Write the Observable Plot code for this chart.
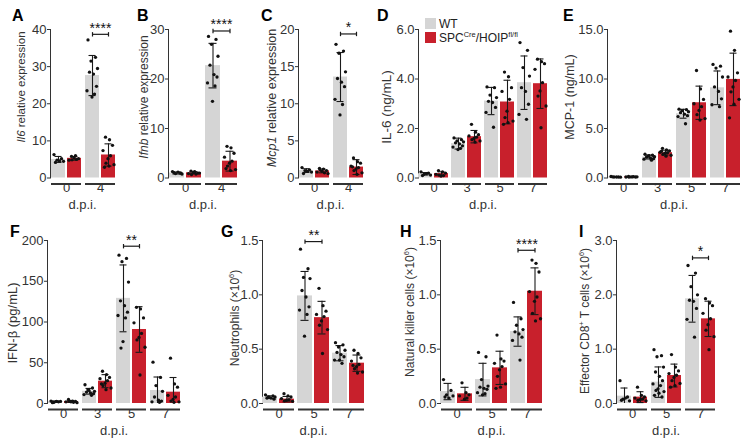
<!DOCTYPE html>
<html><head><meta charset="utf-8">
<script src="https://cdn.jsdelivr.net/npm/d3@7"></script>
<script src="https://cdn.jsdelivr.net/npm/@observablehq/plot@0.6"></script>
<style>
body{margin:0;background:#fff;}
#fig{position:relative;width:752px;height:441px;overflow:hidden;background:#fff;font-family:"Liberation Sans",Arial,sans-serif;color:#222;}
.pl{position:absolute;}
.letter{position:absolute;font-weight:bold;font-size:16px;line-height:1;color:#000;}
.ylab{position:absolute;white-space:nowrap;line-height:1;transform:translate(-50%,-50%) rotate(-90deg);color:#333;}
.xlab{position:absolute;font-size:13px;line-height:1;transform:translate(-50%,-50%);color:#333;white-space:nowrap;}
sup{font-size:0.62em;vertical-align:super;line-height:0;}
.leg{position:absolute;font-size:12px;line-height:1;color:#222;white-space:nowrap;}
.sw{position:absolute;width:11px;height:11px;}
</style></head><body><div id="fig"></div>
<script>
// ---------- data ----------
const A_days = [0, 4];
const A_wtMean = [5.0, 27.6], A_wtSD = [0.8, 5.4];
const A_koMean = [5.3, 6.2], A_koSD = [0.5, 3.0];
const A_wtPts = [[6.3,5.2,4.8,4.5,4.2,4.6],[37.2,32.5,31.5,29.5,28.5,28.0,24.7,23.5,22.6,21.8]];
const A_koPts = [[5.8,6.0,5.2,4.8,5.0,5.5,4.9],[11.0,10.3,8.8,7.4,6.0,5.2,4.0,3.6,3.2,2.9]];
const A_ticks = [0,10,20,30,40];
const A_sig = {day: 4, y: 38.7, stars: "****"};

const B_days = [0, 4];
const B_wtMean = [1.0, 22.7], B_wtSD = [0.2, 4.5];
const B_koMean = [1.05, 3.4], B_koSD = [0.22, 2.0];
const B_wtPts = [[1.3,1.0,0.9,0.8,1.1,1.2,1.0],[28.6,28.0,27.0,24.6,22.8,20.9,20.4,19.2,18.6,15.5]];
const B_koPts = [[1.4,1.2,1.0,0.9,0.8,1.1,0.7,1.0,1.3],[6.4,6.1,5.0,4.2,3.4,3.0,2.4,1.7,1.5,1.9]];
const B_ticks = [0,10,20,30];
const B_sig = {day: 4, y: 29.7, stars: "****"};

const C_days = [0, 4];
const C_wtMean = [1.0, 13.6], C_wtSD = [0.25, 3.3];
const C_koMean = [0.95, 1.47], C_koSD = [0.25, 1.0];
const C_wtPts = [[1.4,1.1,1.0,0.8,0.6,0.9],[18.0,17.1,16.8,14.3,13.4,12.9,12.3,10.6,9.9,8.5]];
const C_koPts = [[1.3,1.2,1.0,0.8,0.7,0.9,1.1,0.6],[2.7,2.2,2.0,1.6,1.4,1.2,1.0,0.7,0.5,1.5]];
const C_ticks = [0,5,10,15,20];
const C_sig = {day: 4, y: 19.4, stars: "*"};

const D_days = [0, 3, 5, 7];
const D_wtMean = [0.17,1.39,3.11,3.85], D_wtSD = [0.05,0.22,0.55,1.08];
const D_koMean = [0.18,1.67,3.07,3.81], D_koSD = [0.07,0.25,0.88,1.0];
const D_wtPts = [[0.25,0.2,0.15,0.12,0.1,0.18],[1.62,1.55,1.50,1.46,1.42,1.38,1.30,1.25,1.20,1.15],[3.68,3.65,3.35,3.25,3.10,3.05,2.85,2.65,2.05],[5.47,5.16,4.46,4.12,3.65,3.5,2.98,2.57,2.37]];
const D_koPts = [[0.3,0.25,0.2,0.15,0.1,0.08,0.12],[2.17,1.85,1.75,1.70,1.65,1.60,1.55,1.50,1.45],[4.28,4.09,3.65,3.5,3.18,2.7,2.44,2.3,2.24,2.17],[4.80,4.70,4.62,4.39,3.85,3.52,3.31,2.91,2.03]];
const D_ticks = [0,2,4,6];

const E_days = [0, 3, 5, 7];
const E_wtMean = [0.1,2.12,6.49,9.11], E_wtSD = [0.03,0.2,0.45,1.7];
const E_koMean = [0.12,2.56,7.6,9.96], E_koSD = [0.03,0.25,1.68,2.65];
const E_wtPts = [[0.15,0.1,0.1,0.08,0.12,0.1],[2.4,2.3,2.2,2.15,2.1,2.0,1.95,1.9,1.8,2.25],[6.95,6.9,6.8,6.7,6.6,6.45,6.3,6.2,5.48],[11.47,11.3,11.1,10.2,9.2,8.75,8.0,7.4,7.2]];
const E_koPts = [[0.15,0.12,0.1,0.1,0.13,0.11,0.09,0.12],[3.0,2.85,2.75,2.6,2.55,2.5,2.4,2.3,2.2,2.7],[10.86,9.0,7.94,7.5,7.2,6.83,6.4,6.0,5.85],[14.83,12.9,10.62,10.2,9.85,9.2,8.7,7.95,7.45,6.08]];
const E_ticks = [0,5,10,15];

const F_days = [0, 3, 5, 7];
const F_wtMean = [2.4,15,129,16], F_wtSD = [0.8,3.5,41,16.5];
const F_koMean = [2.5,27.4,90.8,13.9], F_koSD = [1.2,8,28,18];
const F_wtPts = [[3,2,1.5,2.5,1,2.5],[23,19,17,15,14,13,12,11,10,16],[182,178,174,149,126,120,112,108,105,76,68],[50.7,32,22,15,8,4,3,2,1.5]];
const F_koPts = [[5,3,2.5,2,1.5,2,3,1],[39.6,35.5,32,30.5,28,25,22,19,17,24],[118,116,105,99,86,81,78,69,35],[55.6,24,20,10,8,5,3,2,1.5]];
const F_ticks = [0,50,100,150,200];
const F_sig = {day: 5, y: 193, stars: "**"};

const G_days = [0, 5, 7];
const G_wtMean = [0.058,0.99,0.463], G_wtSD = [0.012,0.225,0.07];
const G_koMean = [0.04,0.79,0.371], G_koSD = [0.025,0.15,0.075];
const G_wtPts = [[0.08,0.07,0.06,0.06,0.05,0.05,0.04],[1.42,1.24,1.16,1.15,1.04,0.98,0.89,0.86,0.82,0.62],[0.56,0.54,0.52,0.49,0.47,0.45,0.43,0.40,0.37,0.40]];
const G_koPts = [[0.09,0.07,0.06,0.045,0.035,0.03,0.025,0.02],[1.06,0.9,0.85,0.82,0.8,0.76,0.72,0.68,0.46],[0.49,0.46,0.42,0.39,0.36,0.34,0.32,0.29,0.28,0.35]];
const G_ticks = [0,0.5,1,1.5];
const G_sig = {day: 5, y: 1.49, stars: "**"};

const H_days = [0, 5, 7];
const H_wtMean = [0.11,0.22,0.662], H_wtSD = [0.075,0.15,0.135];
const H_koMean = [0.089,0.328,1.033], H_koSD = [0.06,0.153,0.215];
const H_wtPts = [[0.22,0.12,0.08,0.07,0.06,0.05],[0.47,0.43,0.22,0.16,0.15,0.14,0.13,0.10,0.09,0.08],[0.93,0.78,0.72,0.68,0.66,0.64,0.61,0.58,0.40]];
const H_koPts = [[0.19,0.1,0.08,0.07,0.05,0.04],[0.63,0.41,0.39,0.37,0.34,0.31,0.25,0.18,0.15,0.14],[1.32,1.29,1.21,1.03,0.98,0.94,0.83,0.78,0.76]];
const H_ticks = [0,0.5,1,1.5];
const H_sig = {day: 7, y: 1.41, stars: "****"};

const I_days = [0, 5, 7];
const I_wtMean = [0.135,0.393,1.927], I_wtSD = [0.15,0.28,0.43];
const I_koMean = [0.117,0.515,1.558], I_koSD = [0.1,0.21,0.325];
const I_wtPts = [[0.42,0.12,0.08,0.05,0.06,0.1],[0.99,0.88,0.86,0.67,0.58,0.5,0.42,0.36,0.33,0.27,0.24,0.22,0.19,0.15,0.12],[2.54,2.4,2.15,2.0,1.9,1.88,1.75,1.55,1.22]];
const I_koPts = [[0.3,0.15,0.12,0.1,0.08,0.07,0.06,0.05],[0.9,0.67,0.6,0.55,0.52,0.48,0.42,0.37,0.33,0.3],[1.93,1.85,1.8,1.66,1.56,1.45,1.35,1.23,0.99]];
const I_ticks = [0,1,2,3];
const I_sig = {day: 7, y: 2.68, stars: "*"};

const seriesNames = ["WT", "KO"];
const legendLabels = ["WT", "SPC<sup>Cre</sup>/HOIP<sup>fl/fl</sup>"];
const xLabel = "d.p.i.";

// ---------- style / layout ----------
const GRAY = "#d5d5d5", RED = "#c8202c", INK = "#1a1a1a";
const OFF = [-4.5, 3, -1.5, 5, -3, 1, 4, -5.5, 2, -0.5, -2.5, 5.5, 0.5, -4, 3.5];
const fint = d3.format("d"), f1 = d3.format(".1f");

const panels = [
  {L:"A", days:A_days, wtMean:A_wtMean, wtSD:A_wtSD, koMean:A_koMean, koSD:A_koSD, wtPts:A_wtPts, koPts:A_koPts, ticks:A_ticks, fmt:fint, sig:A_sig,
   ax:49, right:116, top:28.5, zero:177, lx:12, ly:8, ylab:"<i>Il6</i> relative expression", yfs:11.5, ycx:22, ycy:87},
  {L:"B", days:B_days, wtMean:B_wtMean, wtSD:B_wtSD, koMean:B_koMean, koSD:B_koSD, wtPts:B_wtPts, koPts:B_koPts, ticks:B_ticks, fmt:fint, sig:B_sig,
   ax:168, right:238, top:28.5, zero:177, lx:137, ly:8, ylab:"<i>Ifnb</i> relative expression", yfs:12, ycx:144, ycy:97},
  {L:"C", days:C_days, wtMean:C_wtMean, wtSD:C_wtSD, koMean:C_koMean, koSD:C_koSD, wtPts:C_wtPts, koPts:C_koPts, ticks:C_ticks, fmt:fint, sig:C_sig,
   ax:297, right:364, top:28.5, zero:177, lx:261, ly:8, ylab:"<i>Mcp1</i> relative expression", yfs:12.5, ycx:272, ycy:98},
  {L:"D", days:D_days, wtMean:D_wtMean, wtSD:D_wtSD, koMean:D_koMean, koSD:D_koSD, wtPts:D_wtPts, koPts:D_koPts, ticks:D_ticks, fmt:f1, sig:null,
   ax:417, right:549, top:28.5, zero:177, lx:377, ly:8, ylab:"IL-6 (ng/mL)", yfs:13.5, ycx:387, ycy:107},
  {L:"E", days:E_days, wtMean:E_wtMean, wtSD:E_wtSD, koMean:E_koMean, koSD:E_koSD, wtPts:E_wtPts, koPts:E_koPts, ticks:E_ticks, fmt:f1, sig:null,
   ax:607, right:741, top:28.5, zero:177, lx:563, ly:8, ylab:"MCP-1 (ng/mL)", yfs:12.5, ycx:570, ycy:97},
  {L:"F", days:F_days, wtMean:F_wtMean, wtSD:F_wtSD, koMean:F_koMean, koSD:F_koSD, wtPts:F_wtPts, koPts:F_koPts, ticks:F_ticks, fmt:fint, sig:F_sig,
   ax:46, right:182, top:240, zero:403, lx:10, ly:224, ylab:"IFN-β (pg/mL)", yfs:13, ycx:12, ycy:323},
  {L:"G", days:G_days, wtMean:G_wtMean, wtSD:G_wtSD, koMean:G_koMean, koSD:G_koSD, wtPts:G_wtPts, koPts:G_koPts, ticks:G_ticks, fmt:f1, sig:G_sig,
   ax:261, right:366, top:240, zero:403, lx:221, ly:224, ylab:"Neutrophils (×10<sup>6</sup>)", yfs:12, ycx:235, ycy:318},
  {L:"H", days:H_days, wtMean:H_wtMean, wtSD:H_wtSD, koMean:H_koMean, koSD:H_koSD, wtPts:H_wtPts, koPts:H_koPts, ticks:H_ticks, fmt:f1, sig:H_sig,
   ax:439, right:544, top:240, zero:403, lx:400, ly:224, ylab:"Natural killer cells (×10<sup>6</sup>)", yfs:12, ycx:410, ycy:312},
  {L:"I", days:I_days, wtMean:I_wtMean, wtSD:I_wtSD, koMean:I_koMean, koSD:I_koSD, wtPts:I_wtPts, koPts:I_koPts, ticks:I_ticks, fmt:f1, sig:I_sig,
   ax:615, right:717, top:240, zero:403, lx:579, ly:224, ylab:"Effector CD8<sup>+</sup> T cells (×10<sup>6</sup>)", yfs:12, ycx:585, ycy:321}
];

const fig = document.getElementById("fig");

function makePanel(p) {
  const ml = 38, mr = 2, mt = 26, mb = 36;
  const fw = p.right - p.ax, fh = p.zero - p.top;
  const ymax = p.ticks[p.ticks.length - 1];
  const u = ymax / fh; // data units per pixel
  const bars = p.days.flatMap((d, i) => [
    {day: d, s: seriesNames[0], m: p.wtMean[i], sd: p.wtSD[i]},
    {day: d, s: seriesNames[1], m: p.koMean[i], sd: p.koSD[i]}
  ]);
  const pts = p.days.flatMap((d, i) => [
    ...p.wtPts[i].map((v, j) => ({day: d, s: seriesNames[0], v, k: j % OFF.length})),
    ...p.koPts[i].map((v, j) => ({day: d, s: seriesNames[1], v, k: (j + 4) % OFF.length}))
  ]);
  const marks = [
    Plot.barY(bars, {fx: "day", x: "s", y: "m", fill: "s"}),
    Plot.ruleX(bars, {fx: "day", x: "s", y1: d => Math.max(0, d.m - d.sd), y2: d => d.m + d.sd, stroke: INK, strokeWidth: 1.1}),
    Plot.tickY(bars, {fx: "day", x: "s", y: d => d.m + d.sd, stroke: INK, strokeWidth: 1.1, insetLeft: 3.5, insetRight: 3.5}),
    Plot.tickY(bars.filter(d => d.m - d.sd > 0), {fx: "day", x: "s", y: d => d.m - d.sd, stroke: INK, strokeWidth: 1.1, insetLeft: 3.5, insetRight: 3.5}),
    ...OFF.map((o, k) => Plot.dot(pts.filter(q => q.k === k), {fx: "day", x: "s", y: "v", r: 1.65, fill: "#111", stroke: "none", dx: o})),
    Plot.ruleY([-6 * u], {stroke: "#333", strokeWidth: 2, insetLeft: 1, insetRight: 1}),
    Plot.text(p.days, {fx: d => d, text: d => String(d), frameAnchor: "bottom", dy: 14, fontSize: 13, fill: "#333"})
  ];
  if (p.sig) {
    const s = p.sig;
    marks.push(
      Plot.link([s], {fx: () => s.day, x1: () => seriesNames[0], x2: () => seriesNames[1], y1: s.y, y2: s.y, stroke: INK, strokeWidth: 1.2}),
      Plot.link([0, 1], {fx: () => s.day, x1: i => seriesNames[i], x2: i => seriesNames[i], y1: s.y - 2.2 * u, y2: s.y + 2.2 * u, stroke: INK, strokeWidth: 1.2}),
      Plot.text([s], {fx: () => s.day, y: () => s.y, text: () => s.stars, dy: -1.5, lineAnchor: "bottom", fontSize: 14, fill: "#111"})
    );
  }
  const svg = Plot.plot({
    width: ml + fw + mr, height: mt + fh + mb,
    marginLeft: ml, marginRight: mr, marginTop: mt, marginBottom: mb,
    fx: {domain: p.days, paddingInner: 0.06, paddingOuter: 0, axis: null, label: null},
    x: {domain: seriesNames, paddingInner: 0.1, paddingOuter: 0, axis: null, label: null},
    y: {domain: [0, ymax], ticks: p.ticks, tickFormat: p.fmt, tickSize: 3, tickPadding: 1, line: true, label: null},
    color: {domain: seriesNames, range: [GRAY, RED]},
    style: {fontFamily: "'Liberation Sans', Arial, sans-serif", fontSize: "13px", color: "#333", background: "transparent", overflow: "visible"},
    marks
  });
  svg.classList.add("pl");
  svg.style.left = (p.ax - ml) + "px";
  svg.style.top = (p.top - mt) + "px";
  fig.appendChild(svg);

  const letter = document.createElement("div");
  letter.className = "letter"; letter.textContent = p.L;
  letter.style.left = p.lx + "px"; letter.style.top = p.ly + "px";
  fig.appendChild(letter);

  const yl = document.createElement("div");
  yl.className = "ylab"; yl.innerHTML = p.ylab;
  yl.style.fontSize = p.yfs + "px";
  yl.style.left = p.ycx + "px"; yl.style.top = p.ycy + "px";
  fig.appendChild(yl);

  const xl = document.createElement("div");
  xl.className = "xlab"; xl.textContent = xLabel;
  xl.style.left = ((p.ax + p.right) / 2) + "px"; xl.style.top = (p.zero + 27) + "px";
  fig.appendChild(xl);
}

panels.forEach(makePanel);

// legend (panel D)
[GRAY, RED].forEach((c, i) => {
  const sw = document.createElement("div");
  sw.className = "sw"; sw.style.background = c;
  sw.style.left = "425px"; sw.style.top = (18 + i * 14) + "px";
  fig.appendChild(sw);
  const t = document.createElement("div");
  t.className = "leg"; t.innerHTML = legendLabels[i];
  t.style.left = "439px"; t.style.top = (18 + i * 14) + "px";
  fig.appendChild(t);
});
</script></body></html>
